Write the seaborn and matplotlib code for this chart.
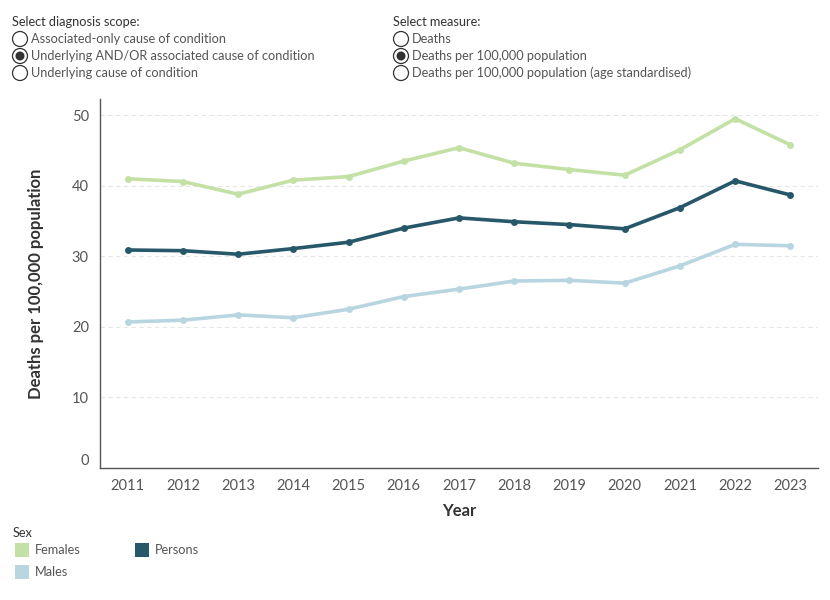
import matplotlib
matplotlib.use("Agg")
import matplotlib.pyplot as plt
import matplotlib.patches as mpatches
from matplotlib.ticker import FixedLocator
from matplotlib.transforms import Affine2D
import seaborn as sns
import pandas as pd

years = ["2011", "2012", "2013", "2014", "2015", "2016", "2017",
         "2018", "2019", "2020", "2021", "2022", "2023"]
females = [41.0, 40.6, 38.8, 40.8, 41.3, 43.5, 45.4, 43.2, 42.3, 41.5, 45.1, 49.5, 45.8]
persons = [30.9, 30.8, 30.3, 31.1, 32.0, 34.0, 35.45, 34.9, 34.5, 33.9, 36.9, 40.7, 38.7]
males = [20.7, 20.95, 21.7, 21.3, 22.5, 24.3, 25.35, 26.5, 26.6, 26.2, 28.65, 31.7, 31.5]
y_ticks = [0, 10, 20, 30, 40, 50]

colors = {"Females": "#C3E1A5", "Males": "#B8D6E0", "Persons": "#27586A"}

df = pd.DataFrame({
    "Year": years * 3,
    "Value": females + males + persons,
    "Sex": ["Females"] * 13 + ["Males"] * 13 + ["Persons"] * 13,
})

sns.set_style("white")
plt.rcParams["font.family"] = ["Lato", "DejaVu Sans"]

fig = plt.figure(figsize=(8.3, 6.0), dpi=100)
ax = fig.add_axes([100 / 830, 132 / 600, 718 / 830, 369 / 600])

sns.lineplot(data=df, x="Year", y="Value", hue="Sex", palette=colors,
             hue_order=["Females", "Males", "Persons"], marker="o",
             markersize=5, markeredgewidth=0, linewidth=2.6, ax=ax,
             legend=False, sort=False)

ax.set_xlim(-0.5, 12.5)
ax.set_ylim(0, 52.3)
ax.set_yticks(y_ticks)
ax.yaxis.grid(True, linestyle=(0, (4, 3)), color="#E6E6E6", linewidth=0.8)
ax.xaxis.grid(False)
ax.get_ygridlines()[0].set_visible(False)

for s in ["top", "right"]:
    ax.spines[s].set_visible(False)
for s in ["left", "bottom"]:
    ax.spines[s].set_color("#555555")
    ax.spines[s].set_linewidth(1.0)

ax.tick_params(axis="y", length=0, labelsize=10.5, labelcolor="#555555", pad=8)
ax.tick_params(axis="x", which="major", length=0, labelsize=10.5,
               labelcolor="#555555", pad=8)
ax.xaxis.set_minor_locator(FixedLocator([i - 0.5 for i in range(14)]))
ax.tick_params(axis="x", which="minor", length=4, color="#DDDDDD", width=0.8)
for lbl in ax.get_yticklabels():
    if lbl.get_text() == "0":
        lbl.set_va("bottom")

ax.set_xlabel("Year", fontsize=12, fontweight="bold", color="#333333", labelpad=7)
ax.set_ylabel("Deaths per 100,000 population", fontsize=12, fontweight="bold",
              color="#333333", labelpad=20)

# figure pixel coordinates with origin at top-left
pix = Affine2D().scale(1, -1).translate(0, 600)


def add_circle(px, py, r, **kw):
    fig.patches.append(mpatches.Circle((px, py), r, transform=pix, **kw))


def radio(px, py, text, selected):
    add_circle(px, py, 7.5, facecolor="white", edgecolor="#333333", linewidth=0.9)
    if selected:
        add_circle(px, py, 4.5, facecolor="#333333", edgecolor="none")
    fig.text((px + 11) / 830, 1 - py / 600, text, fontsize=9.2, color="#555555", va="center")


fig.text(12 / 830, 1 - 22 / 600, "Select diagnosis scope:", fontsize=9.2, color="#333333", va="center")
radio(20, 39, "Associated-only cause of condition", False)
radio(20, 56, "Underlying AND/OR associated cause of condition", True)
radio(20, 73, "Underlying cause of condition", False)

fig.text(393 / 830, 1 - 22 / 600, "Select measure:", fontsize=9.2, color="#333333", va="center")
radio(401, 39, "Deaths", False)
radio(401, 56, "Deaths per 100,000 population", True)
radio(401, 73, "Deaths per 100,000 population (age standardised)", False)

# Legend
fig.text(13 / 830, 1 - 533 / 600, "Sex", fontsize=9.2, color="#333333", va="center")


def swatch(px, py, color, text):
    fig.patches.append(mpatches.Rectangle((px, py), 14, 14, transform=pix,
                                          facecolor=color, edgecolor="none"))
    fig.text((px + 20) / 830, 1 - (py + 7) / 600, text, fontsize=9.2, color="#555555", va="center")


swatch(15, 543, colors["Females"], "Females")
swatch(15, 565, colors["Males"], "Males")
swatch(135, 543, colors["Persons"], "Persons")

fig.savefig("out.png", dpi=100, facecolor="white")
